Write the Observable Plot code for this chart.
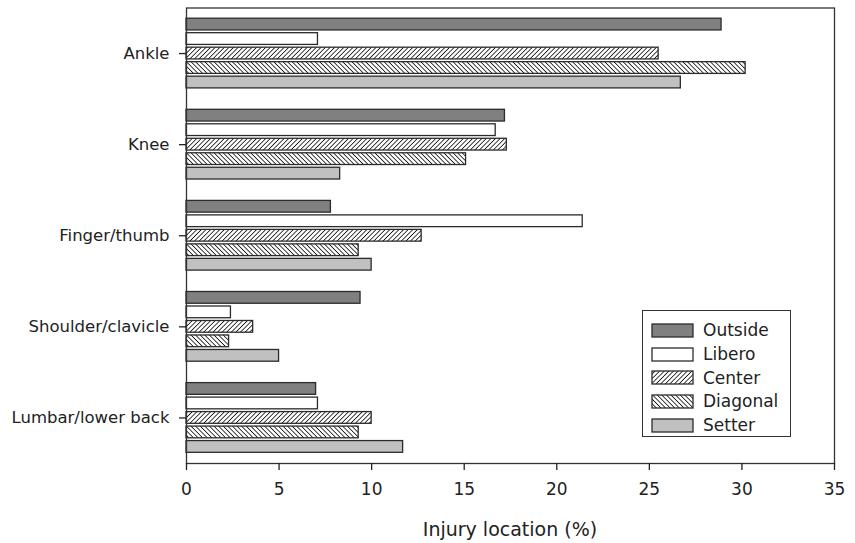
<!DOCTYPE html>
<html>
<head>
<meta charset="utf-8">
<script src="https://cdn.jsdelivr.net/npm/d3@7"></script>
<script src="https://cdn.jsdelivr.net/npm/@observablehq/plot@0.6"></script>
<style>
  html, body { margin: 0; padding: 0; background: white; }
  #wrap { position: relative; width: 855px; height: 543px; font-family: "DejaVu Sans", sans-serif; color: #222; }
  #legend { position: absolute; left: 642px; top: 310px; width: 149px; height: 127px; box-sizing: border-box; border: 1.3px solid #333; background: white; }
  .row { position: absolute; left: 8px; height: 24px; display: flex; align-items: center; font-size: 17px; }
  .row svg { margin-right: 9px; }
  #title { position: absolute; top: 518px; left: 510px; transform: translateX(-50%); font-size: 19px; white-space: nowrap; }
</style>
</head>
<body>
<svg width="0" height="0" style="position:absolute">
  <defs>
    <pattern id="hatchF" patternUnits="userSpaceOnUse" width="3.25" height="3.25" patternTransform="rotate(45)">
      <rect width="3.25" height="3.25" fill="white"></rect>
      <line x1="0" y1="0" x2="0" y2="3.25" stroke="#000" stroke-width="1.5"></line>
    </pattern>
    <pattern id="hatchB" patternUnits="userSpaceOnUse" width="3.25" height="3.25" patternTransform="rotate(-45)">
      <rect width="3.25" height="3.25" fill="white"></rect>
      <line x1="0" y1="0" x2="0" y2="3.25" stroke="#000" stroke-width="1.5"></line>
    </pattern>
  </defs>
</svg>
<div id="wrap">
  <div id="chart"></div>
  <div id="legend"></div>
  <div id="title">Injury location (%)</div>
</div>
<script>
const parts = ["Ankle", "Knee", "Finger/thumb", "Shoulder/clavicle", "Lumbar/lower back"];
const positions = ["Outside", "Libero", "Center", "Diagonal", "Setter"];
const outside  = [28.9, 17.2, 7.8, 9.4, 7.0];
const libero   = [7.1, 16.7, 21.4, 2.4, 7.1];
const center   = [25.5, 17.3, 12.7, 3.6, 10.0];
const diagonal = [30.2, 15.1, 9.3, 2.3, 9.3];
const setter   = [26.7, 8.3, 10.0, 5.0, 11.7];
const xTicks = [0, 5, 10, 15, 20, 25, 30, 35];

const series = [outside, libero, center, diagonal, setter];
const fills = {Outside: "#808080", Libero: "#ffffff", Center: "url(#hatchF)", Diagonal: "url(#hatchB)", Setter: "#c0c0c0"};
const rows = parts.flatMap((p, i) => positions.map((pos, j) => ({part: p, position: pos, value: series[j][i]})));

const chart = Plot.plot({
  width: 855, height: 505,
  marginLeft: 186, marginRight: 21, marginTop: 7.5, marginBottom: 42,
  style: {fontFamily: "DejaVu Sans", fontSize: "17px", color: "#222", background: "white", overflow: "visible"},
  x: {domain: [0, 35]},
  fy: {domain: parts, padding: 0, round: false, label: null, axis: null},
  y: {domain: positions, paddingInner: 0.19, paddingOuter: 0, insetTop: 10.7, insetBottom: 10.7, round: false, axis: null},
  color: {type: "identity"},
  marks: [
    Plot.barX(rows, {x: "value", y: "position", fy: "part", fill: d => fills[d.position], stroke: "#2b2b2b", strokeWidth: 1.3}),
    Plot.frame({facet: "super", stroke: "#333", strokeWidth: 1.3}),
    Plot.axisFy({anchor: "left", tickSize: 7, tickPadding: 10, label: null, fontSize: 16.5, strokeWidth: 1.3}),
    Plot.axisX({ticks: xTicks, tickSize: 7, tickPadding: 12, label: null, fontSize: 17, strokeWidth: 1.3})
  ]
});
document.getElementById("chart").appendChild(chart);

const legend = document.getElementById("legend");
positions.forEach((pos, j) => {
  const row = document.createElement("div");
  row.className = "row";
  row.style.top = (7.3 + j * 23.7) + "px";
  row.innerHTML = `<svg width="43" height="15"><rect x="1" y="1" width="41" height="13" fill="${fills[pos]}" stroke="#2b2b2b" stroke-width="1.3"></rect></svg><span>${pos}</span>`;
  legend.appendChild(row);
});
</script>
</body>
</html>
